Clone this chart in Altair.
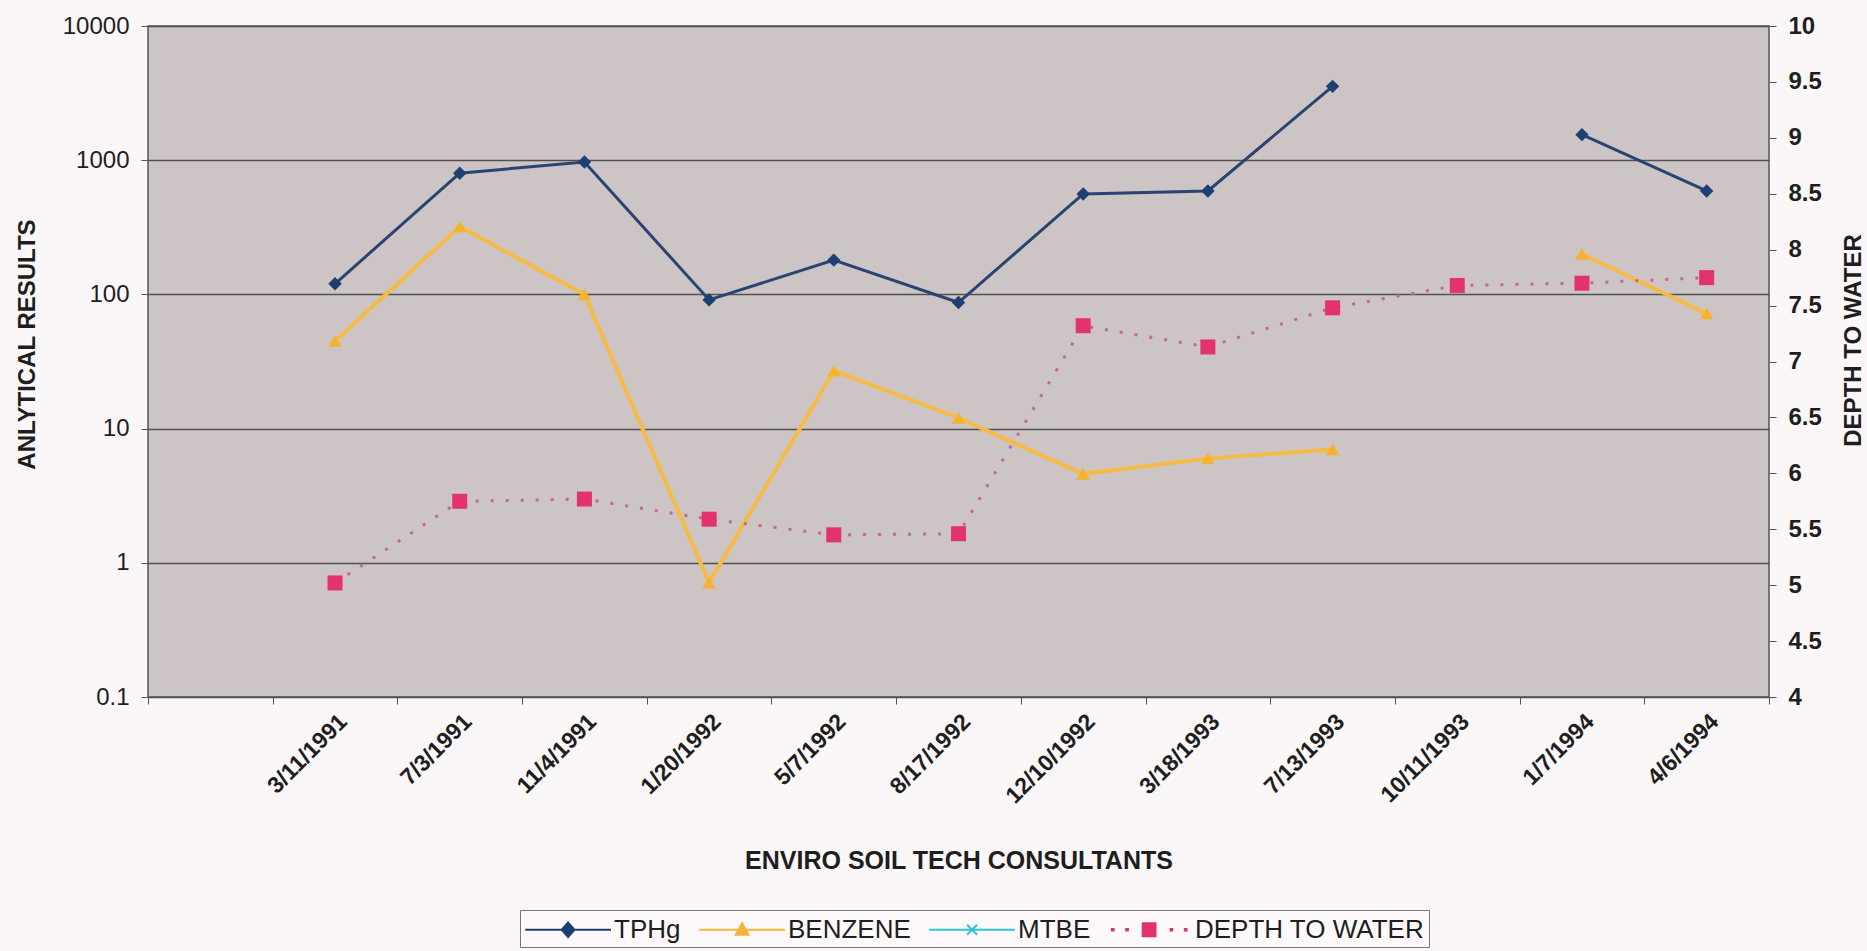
import altair as alt
import pandas as pd

# ---------------- data ----------------
DATES = ["3/11/1991", "7/3/1991", "11/4/1991", "1/20/1992", "5/7/1992", "8/17/1992",
         "12/10/1992", "3/18/1993", "7/13/1993", "10/11/1993", "1/7/1994", "4/6/1994"]
TPHG = [120, 800, 970, 91, 180, 87, 560, 590, 3550, None, 1550, 590]
BENZENE = [45, 320, 100, 0.71, 27, 12, 4.6, 6.0, 7.0, None, 200, 72]
DEPTH = [5.02, 5.75, 5.77, 5.59, 5.45, 5.46, 7.32, 7.13, 7.48, 7.68, 7.70, 7.75]

X_DOMAIN = [""] + DATES
LEFT_TICKS = [0.1, 1, 10, 100, 1000, 10000]
RIGHT_TICKS = [4, 4.5, 5, 5.5, 6, 6.5, 7, 7.5, 8, 8.5, 9, 9.5, 10]

SERIES = ["TPHg", "BENZENE", "MTBE", "DEPTH TO WATER"]
SERIES_COLORS = ["#1d3f73", "#f5b53a", "#2ec4d6", "#e2336d"]

# legend symbols: line + marker (units of sqrt(symbolSize)/2)
DOT = "M{x},-0.06h0.12v0.12h-0.12Z"
LEGEND_PATHS = [
    "M-1,0H5 M2,-0.5L2.45,0L2,0.5L1.55,0Z",
    "M-1,0H5 M2,-0.45L2.45,0.35L1.55,0.35Z",
    "M-1,0H5 M1.65,-0.35L2.35,0.35 M1.65,0.35L2.35,-0.35",
    " ".join(DOT.format(x=v) for v in [-0.6, 0.4]) + " M1.55,-0.45H2.45V0.45H1.55Z " +
    " ".join(DOT.format(x=v) for v in [3.5, 4.5]),
]

df = pd.DataFrame({"date": DATES, "tphg": TPHG, "benzene": BENZENE, "depth": DEPTH})
legend_df = pd.DataFrame({"series": SERIES})

FONT = "Liberation Sans"
TEXT = "#1e1e1e"
PLOT_FILL = "#ccc4c5"

# ---------------- encodings ----------------
x_enc = alt.X(
    "date:N",
    sort=None,
    bandPosition=0.5,
    scale=alt.Scale(type="band", domain=X_DOMAIN, paddingInner=0, paddingOuter=0),
    title="ENVIRO SOIL TECH CONSULTANTS",
    axis=alt.Axis(
        labelAngle=315, labelAlign="right", labelBaseline="top",
        labelFontSize=23, labelFontWeight="bold", labelColor=TEXT, labelPadding=6,
        labelLimit=0, tickBand="extent", tickSize=7, tickColor="#555",
        domain=False, grid=False,
        titleFontSize=25, titleFontWeight="bold", titleColor=TEXT,
        titleY=163, titleBaseline="middle",
    ),
)

left_axis = alt.Axis(
    values=LEFT_TICKS, format="~g", orient="left",
    labelFontSize=24, labelColor=TEXT, labelPadding=12,
    tickSize=7, tickColor="#555", domain=False,
    grid=True, gridColor="#505050", gridWidth=1.5, gridOpacity=1,
    titleFontSize=24, titleFontWeight="bold", titleColor=TEXT,
    titleAngle=270, titleX=-121, titleY=318, titleBaseline="middle",
)
log_scale = alt.Scale(type="log", domain=[0.1, 10000], nice=False)

right_axis = alt.Axis(
    values=RIGHT_TICKS, format="~g", orient="right",
    labelFontSize=24, labelFontWeight="bold", labelColor=TEXT, labelPadding=12,
    tickSize=7, tickColor="#555", domain=False, grid=False,
    titleFontSize=24, titleFontWeight="bold", titleColor=TEXT,
    titleAngle=270, titleX=84, titleY=314, titleBaseline="middle",
)
lin_scale = alt.Scale(domain=[4, 10], nice=False, zero=False)

y_tph = alt.Y("tphg:Q", scale=log_scale, axis=left_axis, title="ANLYTICAL RESULTS")
y_benz = alt.Y("benzene:Q", scale=log_scale, axis=left_axis, title="ANLYTICAL RESULTS")
y_depth = alt.Y("depth:Q", scale=lin_scale, axis=right_axis, title="DEPTH TO WATER")

base = alt.Chart(df)

tph_line = base.mark_line(color="#2a4472", strokeWidth=3,
                          invalid="break-paths-filter-domains").encode(x=x_enc, y=y_tph)
tph_pts = base.mark_point(shape="diamond", filled=True, size=180, opacity=1,
                          color="#1d3f73").encode(x=x_enc, y=y_tph)
benz_line = base.mark_line(color="#f6bb45", strokeWidth=4,
                           invalid="break-paths-filter-domains").encode(x=x_enc, y=y_benz)
benz_pts = base.mark_point(shape="triangle-up", filled=True, size=180, opacity=1,
                           color="#f5b22e").encode(x=x_enc, y=y_benz)

depth_line = base.mark_line(color="#c46a86", strokeWidth=3, strokeDash=[3, 12]).encode(x=x_enc, y=y_depth)
depth_pts = base.mark_point(shape="square", filled=True, size=225, opacity=1,
                            color="#e2336d").encode(x=x_enc, y=y_depth)

left = alt.layer(benz_line, tph_line, benz_pts, tph_pts)
right = alt.layer(depth_line, depth_pts)

leg = alt.Legend(
    title=None, orient="none", legendX=372, legendY=884,
    direction="horizontal", columns=4,
    symbolSize=818, symbolStrokeWidth=2, symbolOpacity=1,
    labelFontSize=26, labelFont=FONT, labelColor=TEXT, labelOffset=59, labelLimit=0,
    columnPadding=14, padding=4, strokeColor="#777", fillColor="#fdf9fa",
)
legend_layer = alt.Chart(legend_df).transform_filter("false").mark_point(
    filled=True, opacity=1
).encode(
    fill=alt.Fill("series:N", scale=alt.Scale(domain=SERIES, range=SERIES_COLORS), legend=leg),
    stroke=alt.Stroke("series:N", scale=alt.Scale(domain=SERIES, range=SERIES_COLORS), legend=leg),
    shape=alt.Shape("series:N", scale=alt.Scale(domain=SERIES, range=LEGEND_PATHS), legend=leg),
)

chart = alt.layer(left, right, legend_layer).resolve_scale(
    y="independent"
).properties(
    width=1621, height=671,
    padding={"left": 148, "top": 26, "right": 98, "bottom": 254},
    autosize=alt.AutoSizeParams(type="none"),
    background="#fbf6f7",
    view=alt.ViewBackground(fill=PLOT_FILL, stroke="#555", strokeWidth=1.5),
).configure(
    font=FONT,
).configure_view(
    fill=PLOT_FILL, stroke="#555", strokeWidth=1.5,
)

chart.save("out.html", embed_options={"renderer": "svg", "actions": False})
